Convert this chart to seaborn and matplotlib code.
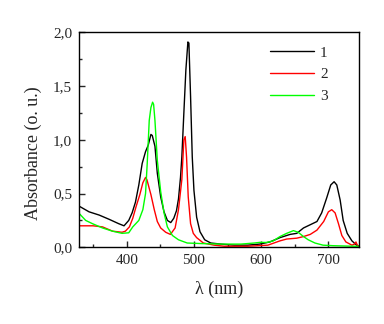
import numpy as np
import pandas as pd
import matplotlib
matplotlib.use("Agg")
import matplotlib.pyplot as plt
from matplotlib.ticker import MultipleLocator, FuncFormatter
import seaborn as sns

# ---- data ----
wl_1 = [330, 344, 359, 374, 388, 396, 403, 408, 413, 418, 423, 428, 432, 436, 438, 442,
        445.5, 450.5, 455.5, 460.5, 465.5, 470, 474, 477, 480, 482, 485, 488, 491, 492.5,
        495, 497.5, 500, 504, 509, 516, 525, 540, 560, 580, 598, 613, 628, 643, 653, 663,
        673, 683, 690, 697.5, 703.5, 708.5, 712.5, 717.5, 722, 728, 735, 742, 746]
abs_1 = [0.38, 0.33, 0.30, 0.26, 0.22, 0.20, 0.25, 0.32, 0.42, 0.58, 0.78, 0.89, 0.95, 1.05, 1.04, 0.94,
         0.69, 0.47, 0.33, 0.25, 0.23, 0.27, 0.34, 0.45, 0.65, 0.84, 1.25, 1.65, 1.91, 1.90,
         1.40, 0.84, 0.53, 0.28, 0.145, 0.07, 0.04, 0.03, 0.02, 0.02, 0.03, 0.05, 0.09, 0.12, 0.13, 0.18,
         0.21, 0.24, 0.32, 0.46, 0.58, 0.61, 0.58, 0.44, 0.25, 0.13, 0.06, 0.02, 0.01]

wl_2 = [330, 350, 364, 379, 393, 398, 404, 409, 414, 419.5, 424, 428, 430, 436, 441, 445.5,
        450.5, 458, 465, 472, 477, 482, 485, 487, 489, 491.5, 495, 499, 504, 514, 530, 545,
        580, 610, 628, 638, 653, 663, 673, 683, 693, 700, 705, 710, 715, 720, 726, 735, 739,
        741, 743, 746]
abs_2 = [0.20, 0.20, 0.19, 0.15, 0.14, 0.15, 0.19, 0.27, 0.38, 0.49, 0.60, 0.65, 0.63, 0.49, 0.35, 0.24,
         0.18, 0.14, 0.12, 0.18, 0.35, 0.63, 1.00, 1.03, 0.84, 0.47, 0.22, 0.13, 0.09, 0.04, 0.02, 0.01,
         0.01, 0.02, 0.06, 0.077, 0.085, 0.10, 0.12, 0.16, 0.24, 0.33, 0.35, 0.32, 0.22, 0.11, 0.05, 0.02, 0.03,
         0.05, 0.02, 0.01]

wl_3 = [330, 339, 349, 364, 379, 393, 403, 409, 418, 424, 428, 430.5, 433.5, 436, 438.5, 440,
        442, 445.5, 450.5, 455.5, 460.5, 468, 477, 490, 510, 540, 570, 590, 598, 608, 618, 628,
        638, 648, 655, 663, 670, 680, 692, 707, 737, 746]
abs_3 = [0.31, 0.25, 0.22, 0.18, 0.15, 0.13, 0.135, 0.19, 0.25, 0.35, 0.50, 0.78, 1.18, 1.30, 1.35, 1.33,
         1.18, 0.81, 0.52, 0.32, 0.19, 0.11, 0.07, 0.04, 0.035, 0.03, 0.03, 0.04, 0.046, 0.045, 0.06, 0.10,
         0.13, 0.155, 0.14, 0.10, 0.07, 0.04, 0.02, 0.015, 0.01, 0.01]

series_names = ["1", "2", "3"]
colors = ["#000000", "#ff0000", "#00ff00"]

df = pd.concat([
    pd.DataFrame({"wl": wl_1, "A": abs_1, "s": series_names[0]}),
    pd.DataFrame({"wl": wl_2, "A": abs_2, "s": series_names[1]}),
    pd.DataFrame({"wl": wl_3, "A": abs_3, "s": series_names[2]}),
], ignore_index=True)

sns.set_style("ticks")
plt.rcParams["font.family"] = ["Liberation Serif", "DejaVu Serif"]

fig = plt.figure(figsize=(3.84, 3.24), dpi=100)
ax = fig.add_axes([0.2057, 0.2367, 0.73, 0.6636])

sns.lineplot(data=df, x="wl", y="A", hue="s", palette=colors, sort=False,
             estimator=None, linewidth=1.0, ax=ax)

ax.set_xlim(329, 746)
ax.set_ylim(0, 2.0)
ax.xaxis.set_major_locator(MultipleLocator(100))
ax.xaxis.set_minor_locator(MultipleLocator(50))
ax.yaxis.set_major_locator(MultipleLocator(0.5))
ax.yaxis.set_minor_locator(MultipleLocator(0.25))
ax.yaxis.set_major_formatter(FuncFormatter(lambda v, p: f"{v:.1f}".replace(".", ",")))
ax.tick_params(which="both", direction="in", top=False, right=False, labelsize=11, width=1)
ax.tick_params(which="major", length=4, pad=5)
ax.tick_params(which="minor", length=2)
for sp in ax.spines.values():
    sp.set_visible(True)
    sp.set_linewidth(1.0)
    sp.set_color("black")

ax.set_xlabel("λ (nm)", fontsize=13, labelpad=9.5)
ax.set_ylabel("Absorbance (o. u.)", fontsize=13)
ax.yaxis.set_label_coords(-0.133, 0.44)

leg = ax.legend(loc="upper left", bbox_to_anchor=(0.68, 0.936), frameon=False,
                borderpad=0, borderaxespad=0, handlelength=2.9, handletextpad=0.4,
                labelspacing=0.52, fontsize=11, title=None)

fig.savefig("out.png", dpi=100)
